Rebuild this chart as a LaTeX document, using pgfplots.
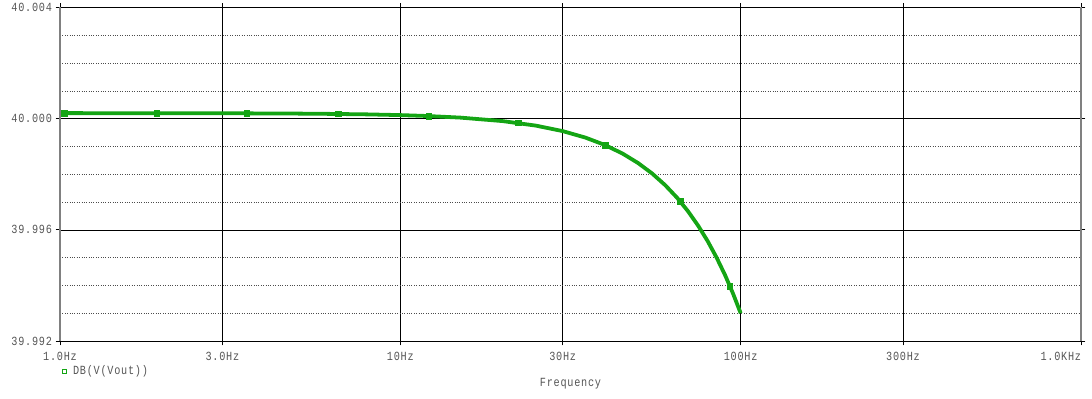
\documentclass[border=0pt]{standalone}
\usepackage{fontspec}
\usepackage{pgfplots}
\pgfplotsset{compat=1.18}
\newfontfamily\psfont[LetterSpace=6,FakeStretch=0.82]{Liberation Mono}
\definecolor{pgreen}{RGB}{20,165,20}
\definecolor{lblgray}{RGB}{85,85,85}
\newcommand\psf{\psfont\fontsize{12.5}{13}\selectfont}
% y values stored as (dB - 40) * 1000, i.e. milli-dB offsets from 40 dB,
% so that the tiny range is not lost in floating-point precision.
\begin{document}
\begin{tikzpicture}
\begin{axis}[
  scale only axis,
  width=1021bp, height=333.5bp,
  xmode=log, xmin=1, xmax=1000,
  ymin=-8, ymax=4,
  xtick={1,3,10,30,100,300,1000},
  xticklabels={1.0Hz,3.0Hz,10Hz,30Hz,100Hz,300Hz,{\llap{1.0KHz}}},
  ytick={-8,-4,0,4},
  yticklabels={39.992,39.996,40.000,40.004},
  minor ytick={-7,-6,-5,-3,-2,-1,1,2,3},
  minor x tick style={draw=none},
  minor y tick style={draw=none},
  xmajorgrids, ymajorgrids, yminorgrids,
  major grid style={black, line width=0.6pt},
  minor grid style={black!70, dotted, line width=0.6pt},
  axis line style={black, line width=0.8pt},
  tick align=outside,
  major tick length=4.5pt,
  tick style={black, line width=0.8pt},
  ticklabel style={font=\psf, text=lblgray},
  xticklabel style={anchor=center, yshift=-11bp},
  yticklabel style={anchor=east, xshift=0bp},
  xlabel={Frequency},
  xlabel style={at={(axis description cs:0.5,0)}, anchor=center, yshift=-43bp,
    font=\psf, text=lblgray},
  legend style={at={(axis description cs:0,0)}, anchor=west, xshift=2bp, yshift=-30bp,
    draw=none, fill=none, font=\psf, text=lblgray,
    inner sep=0pt, row sep=0pt, nodes={inner sep=2pt},
    /tikz/every odd column/.append style={column sep=4bp}},
  legend cell align=left,
  legend image code/.code={\draw[pgreen, line width=0.9pt] (0pt,-2pt) rectangle (4pt,2pt);},
  clip=false,
]
\addplot[pgreen, line width=3.8pt, no marks] coordinates {
 (1,0.199) (1.5,0.198) (2,0.197) (3,0.194) (4,0.188) (5,0.182) (6,0.174)
 (8,0.154) (10,0.128) (12,0.096) (15,0.038) (20,-0.088) (25,-0.250)
 (30,-0.448) (35,-0.682) (40,-0.952) (45,-1.258) (50,-1.600) (55,-1.978)
 (60,-2.392) (65,-2.842) (70,-3.328) (75,-3.850) (80,-4.408) (85,-5.002)
 (90,-5.632) (95,-6.298) (100,-7.000)
};
\addlegendentry{DB(V(Vout))}
\addplot[pgreen, only marks, mark=square*, mark size=2.7pt, forget plot] coordinates {
 (1.03,0.199) (1.92,0.197) (3.54,0.191) (6.56,0.169) (12.1,0.095)
 (22.2,-0.155) (40,-0.952) (66.4,-2.974) (93,-6.027)
};
\draw[gray, line width=1.6pt] (rel axis cs:0,0) -- (rel axis cs:0,1);
\draw[gray, line width=1.6pt] (rel axis cs:1,0) -- (rel axis cs:1,1);
\coordinate (SW) at (rel axis cs:0,0);
\coordinate (NE) at (rel axis cs:1,1);
\end{axis}
\pgfresetboundingbox
\path ([xshift=-60bp,yshift=-58bp]SW) rectangle ([xshift=11bp,yshift=7.5bp]NE);
\end{tikzpicture}
\end{document}
